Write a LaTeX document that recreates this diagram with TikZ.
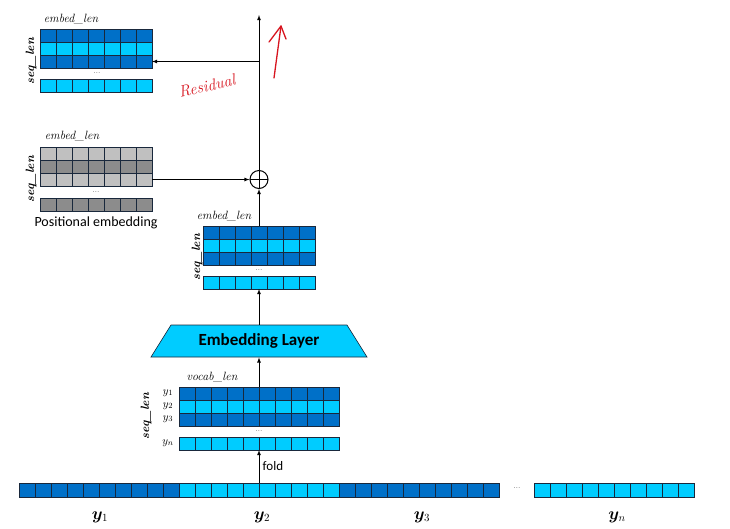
\documentclass[tikz,border=0pt]{standalone}
\usepackage{amsmath}
\usepackage{amssymb}
\usepackage{bm}
\usepackage{fontspec}
\newfontfamily\calibri{Carlito}
\usepackage{tikz}
\usetikzlibrary{shadows}

\definecolor{dkblue}{RGB}{0,112,200}
\definecolor{ltblue}{RGB}{0,204,255}
\definecolor{ltgray}{RGB}{192,192,192}
\definecolor{dkgray}{RGB}{140,140,140}
\definecolor{cellborder}{RGB}{25,40,60}
\definecolor{inkred}{RGB}{215,20,30}

% a strip of square cells: style, name, position, number of cells, fill
\newcommand{\cellstrip}[5]{%
  \node[#1, fill=#5, minimum width=#4*16pt] (#2) at #3 {};
  \foreach \k in {1,...,#4}
    \draw[-, cellborder, line width=0.6pt] ([xshift=\k*16pt]#2.north west) -- ([xshift=\k*16pt]#2.south west);
}

\begin{document}
\begin{tikzpicture}[x=1pt, y=-1pt, ->, >=latex, line width=0.8pt]
      \tikzstyle{cellrow}=[rectangle, draw=cellborder, line width=0.6pt, minimum height=13pt, inner sep=0pt, outer sep=0pt, anchor=north west,
                           drop shadow={opacity=0.25, shadow xshift=1.2pt, shadow yshift=-1.2pt}]
      \tikzstyle{long row}=[cellrow, minimum height=14pt]
      \tikzstyle{dimlabel}=[font=\itshape\fontsize{12}{14}\selectfont, inner sep=1pt]
      \tikzstyle{seqlabel}=[font=\bfseries\itshape\fontsize{12}{14}\selectfont, inner sep=1pt, rotate=90]
      \tikzstyle{rowlabel}=[font=\fontsize{11}{13}\selectfont, inner sep=0pt]
      \tikzstyle{dotsnode}=[font=\scriptsize, inner sep=0pt]
      \tikzstyle{sumnode}=[circle, draw, line width=1pt, minimum size=18pt, inner sep=0pt]
      \tikzstyle{annot}=[font=\calibri\fontsize{14}{16}\selectfont]
      \tikzstyle{ink}=[-, inkred, line width=1.3pt, line cap=round, line join=round]

      \useasboundingbox (0,0) rectangle (730,528);

      % output of the block
      \cellstrip{cellrow}{o1}{(40,29)}{7}{dkblue}
      \cellstrip{cellrow}{o2}{(40,42)}{7}{ltblue}
      \cellstrip{cellrow}{o3}{(40,55)}{7}{dkblue}
      \cellstrip{cellrow}{o4}{(40,79)}{7}{ltblue}
      \node[dimlabel] (odim) at (71,19) {embed\_len};
      \node[seqlabel] (oseq) at (31,61) {seq\_len};
      \node[dotsnode] (odots) at (97,73) {...};

      % positional embedding
      \cellstrip{cellrow}{p1}{(40,147)}{7}{ltgray}
      \cellstrip{cellrow}{p2}{(40,160)}{7}{dkgray}
      \cellstrip{cellrow}{p3}{(40,173)}{7}{ltgray}
      \cellstrip{cellrow}{p4}{(40,198)}{7}{dkgray}
      \node[dimlabel] (pdim) at (72,136) {embed\_len};
      \node[seqlabel] (pseq) at (31,179) {seq\_len};
      \node[dotsnode] (pdots) at (96,192) {...};
      \node[annot] (pname) at (96,223) {Positional embedding};

      % token embedding
      \cellstrip{cellrow}{e1}{(203,226)}{7}{dkblue}
      \cellstrip{cellrow}{e2}{(203,239)}{7}{ltblue}
      \cellstrip{cellrow}{e3}{(203,252)}{7}{dkblue}
      \cellstrip{cellrow}{e4}{(203,276)}{7}{ltblue}
      \node[dimlabel] (edim) at (224,216) {embed\_len};
      \node[seqlabel] (eseq) at (197,257) {seq\_len};
      \node[dotsnode] (edots) at (259,270) {...};

      % embedding layer
      \filldraw[-, fill=ltblue, draw=cellborder, line width=0.6pt] (151,357) -- (171,325) -- (347,325) -- (367,357) -- cycle;
      \node[minimum width=190pt, minimum height=32pt, inner sep=0pt] (layer) at (259,341)
            {\calibri\bfseries\fontsize{17}{20}\selectfont Embedding Layer};

      % one-hot rows
      \cellstrip{cellrow}{v1}{(179,387)}{10}{dkblue}
      \cellstrip{cellrow}{v2}{(179,400)}{10}{ltblue}
      \cellstrip{cellrow}{v3}{(179,413)}{10}{dkblue}
      \cellstrip{cellrow}{v4}{(179,437)}{10}{ltblue}
      \node[dimlabel] (vdim) at (212,377) {vocab\_len};
      \node[seqlabel] (vseq) at (146,416) {seq\_len};
      \node[dotsnode] (vdots) at (259,431) {...};
      \node[rowlabel] (vy1) at (168,393) {$y_1$};
      \node[rowlabel] (vy2) at (168,406) {$y_2$};
      \node[rowlabel] (vy3) at (168,419) {$y_3$};
      \node[rowlabel] (vyn) at (168,443) {$y_n$};

      % flat sequence
      \cellstrip{long row}{b1}{(19,483)}{10}{dkblue}
      \cellstrip{long row}{b2}{(179,483)}{10}{ltblue}
      \cellstrip{long row}{b3}{(339,483)}{10}{dkblue}
      \cellstrip{long row}{bn}{(534,483)}{10}{ltblue}
      \node[dotsnode] (bdots) at (517,488) {...};
      \node (by1) at (100,517) {\fontsize{16}{19}\selectfont$\bm{y}_1$};
      \node (by2) at (262,517) {\fontsize{16}{19}\selectfont$\bm{y}_2$};
      \node (by3) at (422,517) {\fontsize{16}{19}\selectfont$\bm{y}_3$};
      \node (byn) at (617,517) {\fontsize{16}{19}\selectfont$\bm{y}_n$};

      \node[sumnode, path picture={
          \draw[-, line width=1pt] (path picture bounding box.north) -- (path picture bounding box.south);
          \draw[-, line width=1pt] (path picture bounding box.west) -- (path picture bounding box.east);}]
          (sum) at (259,179.5) {};
      \coordinate (top) at (259,15);
      \coordinate (branch) at (259,61.5);

      \path (b2.north) edge node[right, font=\calibri\fontsize{13}{15}\selectfont] {fold} (v4.south);
      \path (v1.north) edge (layer.south);
      \path (layer.north) edge (e4.south);
      \path (e1.north) edge (sum.south);
      \path (p3.east) edge (sum.west);
      \path (sum.north) edge (top);
      \path (branch) edge (o3.east);

      % handwritten note
      \node[text=inkred, rotate=13, font=\itshape\fontsize{16}{18}\selectfont] (resid) at (207,86) {Residual};
      \coordinate (inkfoot) at (274,78);
      \coordinate (inktip) at (281,26);
      \coordinate (inkleft) at (269,42);
      \coordinate (inkright) at (286,39);
      \draw[ink] (inkfoot) -- (inktip);
      \draw[ink] (inkleft) -- (inktip) -- (inkright);
  \end{tikzpicture}
\end{document}
